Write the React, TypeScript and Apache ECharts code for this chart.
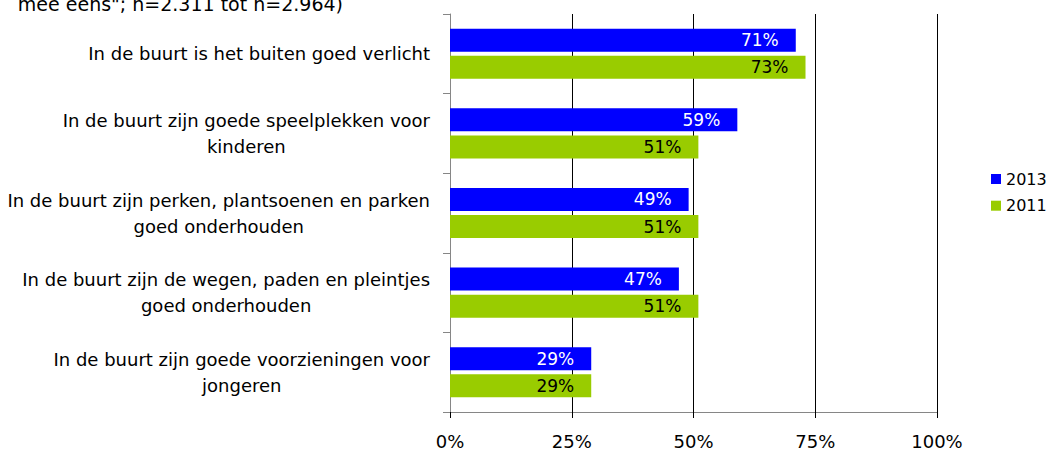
import React, { useEffect, useRef } from "react";
import * as echarts from "echarts";

const categories = [
  "In de buurt is het buiten goed verlicht",
  "In de buurt zijn goede speelplekken voor\nkinderen",
  "In de buurt zijn perken, plantsoenen en parken\ngoed onderhouden",
  "In de buurt zijn de wegen, paden en pleintjes\ngoed onderhouden",
  "In de buurt zijn goede voorzieningen voor\njongeren",
];
const values2013 = [71, 59, 49, 47, 29];
const values2011 = [73, 51, 51, 51, 29];
const xTicks = [0, 25, 50, 75, 100];
const titleText = 'mee eens"; n=2.311 tot n=2.964)';

const FONT = "'DejaVu Sans', sans-serif";

export default function App() {
  const ref = useRef<HTMLDivElement>(null);
  useEffect(() => {
    if (!ref.current) return;
    const chart = echarts.init(ref.current, null, { renderer: "svg" });
    chart.setOption({
      animation: false,
      textStyle: { fontFamily: FONT },
      graphic: [
        {
          type: "text",
          x: 343,
          y: 4,
          style: {
            text: titleText,
            font: `19px ${FONT}`,
            fill: "#000",
            align: "right",
            verticalAlign: "middle",
          },
        },
      ],
      legend: {
        orient: "vertical",
        left: 991,
        top: 171,
        padding: 0,
        itemWidth: 10,
        itemHeight: 10,
        itemGap: 10.7,
        icon: "rect",
        textStyle: { fontSize: 16, lineHeight: 16, color: "#000", fontFamily: FONT },
        data: ["2013", "2011"],
      },
      grid: { left: 450, right: 109, top: 14, bottom: 37, containLabel: false },
      xAxis: {
        type: "value",
        min: 0,
        max: 100,
        interval: 25,
        axisLine: { show: true, lineStyle: { color: "#868686", width: 1 } },
        axisTick: { show: true, length: 6, lineStyle: { color: "#000" } },
        splitLine: { show: true, lineStyle: { color: "#000", width: 1 } },
        axisLabel: {
          formatter: (v: number) => (xTicks.includes(v) ? `${v}%` : ""),
          fontSize: 18,
          lineHeight: 16,
          color: "#000",
          margin: 21,
          fontFamily: FONT,
        },
      },
      yAxis: {
        type: "category",
        inverse: true,
        data: categories,
        axisLine: { show: true, lineStyle: { color: "#868686", width: 1 } },
        axisTick: { show: true, length: 7, lineStyle: { color: "#868686" } },
        axisLabel: {
          margin: 20,
          color: "#000",
          fontSize: 18,
          fontFamily: FONT,
          lineHeight: 26,
          align: "right",
          formatter: (v: string) =>
            v
              .split("\n")
              .map((l) => `{c|${l}}`)
              .join("\n"),
          rich: {
            c: { align: "center", fontSize: 18, lineHeight: 26, color: "#000", fontFamily: FONT },
          },
        },
      },
      series: [
        {
          name: "2013",
          type: "bar",
          data: values2013,
          barWidth: 23,
          barGap: "18%",
          itemStyle: { color: "#0000FF" },
          label: {
            show: true,
            position: "insideRight",
            distance: 17,
            formatter: "{c}%",
            color: "#fff",
            fontSize: 17,
            fontFamily: FONT,
          },
        },
        {
          name: "2011",
          type: "bar",
          data: values2011,
          barWidth: 23,
          barGap: "18%",
          itemStyle: { color: "#99CC00" },
          label: {
            show: true,
            position: "insideRight",
            distance: 17,
            formatter: "{c}%",
            color: "#000",
            fontSize: 17,
            fontFamily: FONT,
          },
        },
      ],
    });
    return () => chart.dispose();
  }, []);
  return <div ref={ref} style={{ width: 1046, height: 450, position: "absolute", left: 0, top: 0 }} />;
}
